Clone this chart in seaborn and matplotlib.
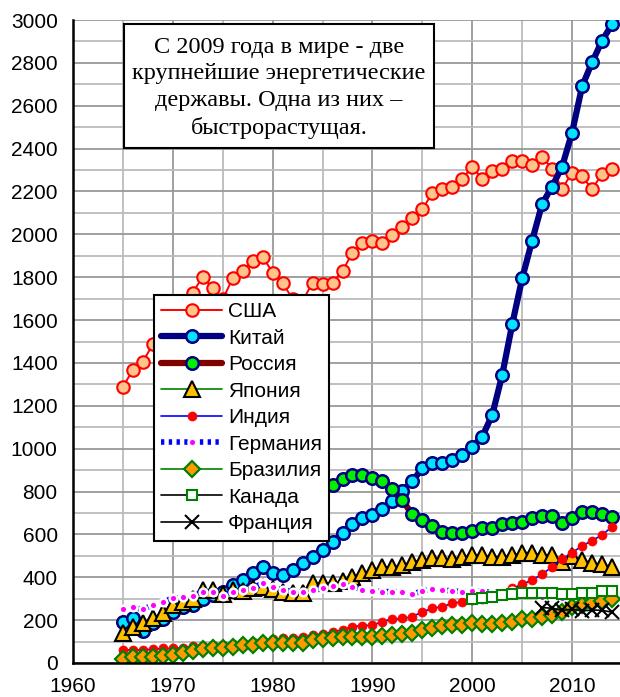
import numpy as np
import pandas as pd
import matplotlib
matplotlib.use("Agg")
import matplotlib.pyplot as plt
from matplotlib.ticker import MultipleLocator
from matplotlib.patches import Rectangle
import seaborn as sns

years = list(range(1965, 2015))

usa = [1289, 1367, 1406, 1487, 1569, 1616, 1655, 1728, 1803, 1748,
       1697, 1795, 1831, 1877, 1896, 1821, 1775, 1697, 1689, 1775,
       1767, 1775, 1829, 1915, 1961, 1969, 1961, 1997, 2036, 2075,
       2118, 2192, 2212, 2223, 2259, 2316, 2259, 2296, 2304, 2344,
       2344, 2324, 2363, 2305, 2212, 2288, 2270, 2212, 2280, 2305]

china = [190, 208, 151, 185, 205, 239, 263, 271, 299, 317,
         333, 364, 387, 418, 449, 422, 411, 434, 465, 496,
         527, 566, 605, 647, 675, 691, 719, 757, 803, 849,
         908, 935, 935, 947, 971, 1009, 1056, 1157, 1344, 1580,
         1795, 1971, 2142, 2223, 2316, 2475, 2690, 2802, 2903, 2980]

russia_years = list(range(1985, 2015))
russia = [812, 831, 860, 879, 877, 861, 850, 811, 759, 693,
          665, 637, 610, 608, 608, 617, 628, 630, 647, 655,
          657, 675, 686, 686, 655, 678, 706, 705, 694, 683]

japan = [141, 166, 188, 208, 235, 271, 286, 297, 341, 341,
         322, 341, 338, 348, 356, 345, 333, 325, 325, 372,
         372, 372, 384, 403, 418, 434, 449, 449, 457, 473,
         481, 488, 488, 484, 496, 504, 504, 496, 496, 504,
         515, 515, 504, 504, 473, 499, 481, 468, 460, 449]

india = [61, 61, 61, 64, 68, 68, 71, 79, 79, 84,
         84, 89, 95, 100, 104, 110, 115, 115, 123, 131,
         135, 146, 154, 170, 174, 177, 193, 204, 208, 216,
         239, 255, 263, 278, 286, 294, 299, 306, 322, 348,
         367, 387, 414, 449, 484, 515, 546, 571, 597, 636]

germany = [250, 260, 250, 271, 286, 302, 306, 313, 333, 333,
           313, 333, 341, 351, 372, 353, 341, 333, 333, 341,
           351, 361, 367, 356, 341, 336, 333, 333, 333, 322,
           336, 344, 341, 336, 333, 336, 336, 327, 336, 336,
           333, 333, 306, 313, 302, 310, 302, 306, 313, 302]

brazil = [20, 27, 27, 29, 33, 37, 45, 56, 64, 69,
          71, 76, 84, 84, 92, 92, 95, 95, 95, 107,
          112, 115, 120, 123, 123, 120, 127, 131, 135, 138,
          154, 162, 173, 177, 177, 185, 181, 183, 187, 193,
          204, 206, 216, 225, 240, 262, 272, 280, 288, 297]

canada_years = list(range(2000, 2015))
canada = [297, 302, 309, 317, 322, 328, 328, 328, 325, 322,
          322, 328, 328, 336, 336]

france_years = list(range(2007, 2015))
france = [258, 256, 245, 252, 243, 247, 246, 237]

labels = ["США", "Китай", "Россия", "Япония", "Индия", "Германия",
          "Бразилия", "Канада", "Франция"]

note_lines = ["С 2009 года в мире - две", "крупнейшие энергетические",
              "державы. Одна из них –", "быстрорастущая."]

sns.set_style("white")
plt.rcParams['font.family'] = ['Liberation Sans', 'DejaVu Sans']
plt.rcParams['text.color'] = 'black'
plt.rcParams['xtick.color'] = 'black'
plt.rcParams['ytick.color'] = 'black'

fig = plt.figure(figsize=(6.2, 6.97), dpi=100)
ax = fig.add_axes([73/620, 34/697, 549/620, 643/697])

series = [
    (years, usa, dict(color="#FF0000", linewidth=1.4, marker="o", markersize=9,
                      markerfacecolor="#FFC38C", markeredgecolor="#FF0000", markeredgewidth=1.5)),
    (years, china, dict(color="#000080", linewidth=4.5, marker="o", markersize=9,
                        markerfacecolor="#00E5FF", markeredgecolor="#000080", markeredgewidth=1.8)),
    (russia_years, russia, dict(color="#800000", linewidth=4.5, marker="o", markersize=9,
                                markerfacecolor="#00F000", markeredgecolor="#000080", markeredgewidth=1.8)),
    (years, japan, dict(color="#008000", linewidth=1.2, marker="^", markersize=11,
                        markerfacecolor="#FFC000", markeredgecolor="#000000", markeredgewidth=1.5)),
    (years, india, dict(color="#0000FF", linewidth=1.2, marker="o", markersize=6.5,
                        markerfacecolor="#FF0000", markeredgecolor="#FF0000", markeredgewidth=0.5)),
    (years, germany, dict(color="#0000FF", linewidth=4.0, linestyle=(0, (0.6, 0.8)),
                          marker="o", markersize=5.5,
                          markerfacecolor="#FF00FF", markeredgecolor="#FFFFFF", markeredgewidth=1.8)),
    (years, brazil, dict(color="#008000", linewidth=1.2, marker="D", markersize=8,
                         markerfacecolor="#FF9900", markeredgecolor="#008000", markeredgewidth=1.6)),
    (canada_years, canada, dict(color="#000000", linewidth=1.2, marker="s", markersize=6.5,
                                markerfacecolor="#FFFFFF", markeredgecolor="#008000", markeredgewidth=1.5)),
    (france_years, france, dict(color="#000000", linewidth=1.2, marker="x", markersize=10,
                                markeredgecolor="#000000", markeredgewidth=1.5)),
]

for (xs, ys, kw), lab in zip(series, labels):
    df = pd.DataFrame({"year": xs, "value": ys})
    sns.lineplot(data=df, x="year", y="value", ax=ax, label=lab, **kw)

ax.set_xlim(1960, 2015)
ax.set_ylim(0, 3000)
ax.xaxis.set_major_locator(MultipleLocator(10))
ax.xaxis.set_minor_locator(MultipleLocator(5))
ax.yaxis.set_major_locator(MultipleLocator(200))
ax.yaxis.set_minor_locator(MultipleLocator(100))
ax.grid(True, which="major", color="#999999", linewidth=1.3)
ax.grid(True, which="minor", color="#BBBBBB", linewidth=1.3)
ax.set_axisbelow(True)
ax.tick_params(axis="both", which="major", direction="out", length=5, width=1.5,
               labelsize=15, colors="black", pad=6)
ax.tick_params(axis="both", which="minor", length=0)
ax.tick_params(axis="x", pad=5)
ax.set_xlabel("")
ax.set_ylabel("")
for s in ["top", "right"]:
    ax.spines[s].set_visible(False)
for s in ["left", "bottom"]:
    ax.spines[s].set_color("black")
    ax.spines[s].set_linewidth(1.8)

leg = ax.legend(loc="upper left", bbox_to_anchor=(154/620, 1 - 295/697),
                bbox_transform=fig.transFigure, borderaxespad=0,
                fancybox=False, framealpha=1, edgecolor="black",
                fontsize=15, handlelength=2.9, numpoints=1,
                labelspacing=0.36, handletextpad=0.3, borderpad=0.35)
leg.get_frame().set_linewidth(1.5)
for t in leg.get_texts():
    t.set_color("black")

fig.patches.append(Rectangle((124/620, 1 - 148/697), 310/620, 124/697,
                             transform=fig.transFigure, facecolor="white",
                             edgecolor="black", linewidth=1.5, zorder=5))
fig.text(279/620, 1 - 88/697, "\n".join(note_lines), ha="center", va="center",
         fontsize=17.5, family=["Liberation Serif", "DejaVu Serif"],
         linespacing=1.36, zorder=6, color="black")

fig.savefig("out.png", dpi=100)
